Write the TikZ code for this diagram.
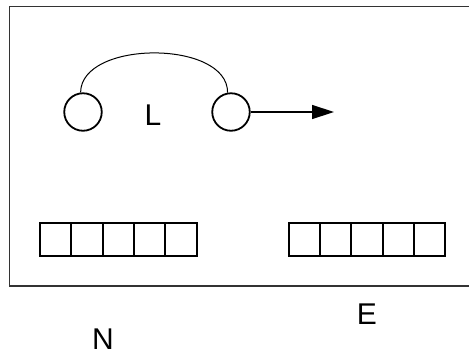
\documentclass[tikz,border=0pt]{standalone}
\usepackage{fontspec}
\setmainfont{Liberation Sans}
\usepackage{tikz}
\usetikzlibrary{calc,arrows.meta}
\tikzset{
  cell/.style={draw, line width=1.8pt, minimum width=31.3pt, minimum height=33pt,
    inner sep=0pt, outer sep=0pt},
  ring/.style={draw, circle, line width=1.8pt, minimum size=37.5pt, inner sep=0pt},
  tag/.style={font=\fontsize{30}{32}\selectfont, inner sep=0pt},
}
\newcommand*{\CellRow}[3]{% #1 = name, #2 = left x, #3 = middle y
\foreach \i in {0,...,4} {
\node [cell] (#1\i)
at (#2+15.65+\i*31.33,#3) {};
}%
}

\begin{document}
\begin{tikzpicture}[x=1pt,y=-1pt]
            \useasboundingbox (0,0) rectangle (469,354);
            \draw[line width=1.4pt, black!80] (480,6.5) -- (9.5,6.5) -- (9.5,286) -- (480,286);

            \node [ring] (left) at (83,112) {};
            \node [ring] (right) at (231,112) {};
            \node [tag] (L) at (153,115) {L};
            \draw[line width=1pt] (left.97) .. controls (81,39.7) and (228,39.7) .. (right.100);
            \coordinate (tip) at (334,112);
            \draw[line width=1.4pt, -{Triangle[length=22pt,width=14pt]}] (right) -- (tip);

            \CellRow{n}{40}{239.5}
            \CellRow{e}{288.7}{239.5}

            \node [tag] (E) at (367,314) {E};
            \node [tag] (N) at (103,339) {N};
        \end{tikzpicture}
\end{document}
